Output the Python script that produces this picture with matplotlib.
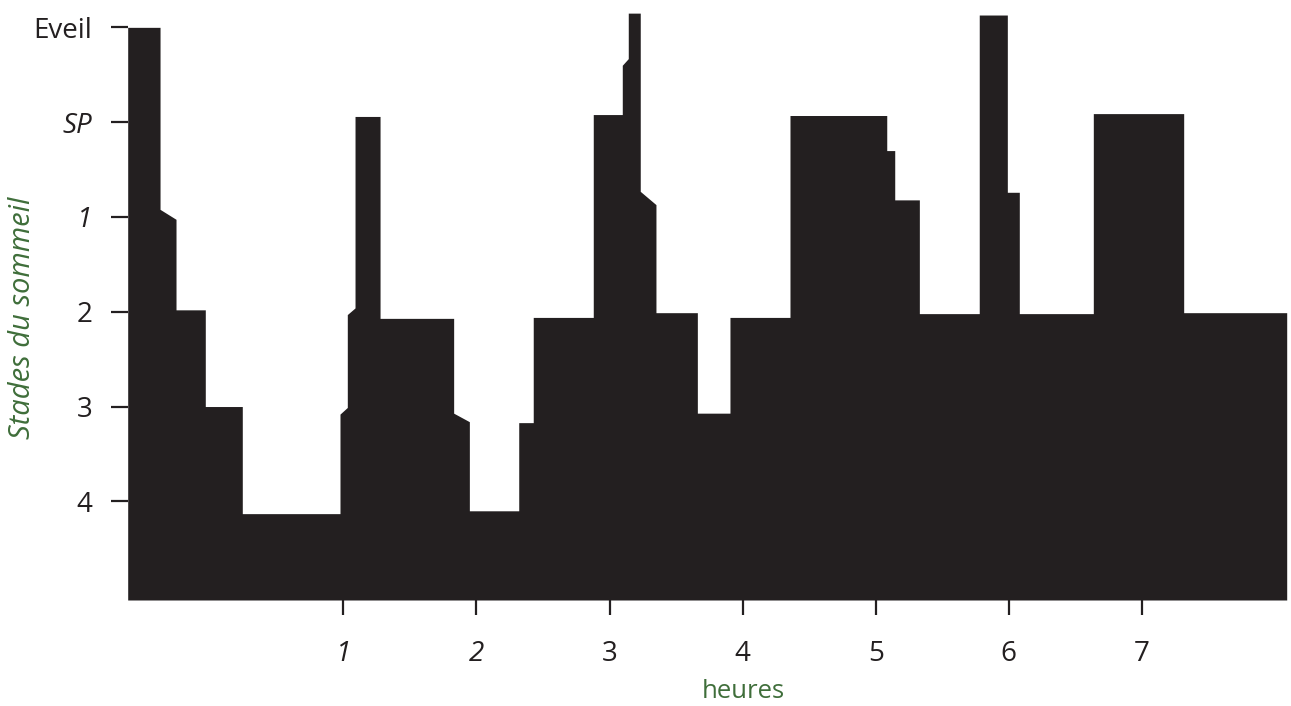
import matplotlib
matplotlib.use("Agg")
import matplotlib.pyplot as plt

plt.rcParams['font.family'] = ['Open Sans', 'DejaVu Sans']

# Hypnogram outline: time (hours) and stage level (5=Eveil, 4=SP, 3=stade 1, 2=stade 2, 1=stade 3, 0=stade 4)
hours = [-0.620, -0.377, -0.377, -0.257, -0.257, -0.037, -0.037, 0.241, 0.241, 0.975,
         0.975, 1.030, 1.030, 1.088, 1.088, 1.276, 1.276, 1.829, 1.829, 1.947,
         1.947, 2.318, 2.318, 2.427, 2.427, 2.878, 2.878, 3.096, 3.096, 3.141,
         3.141, 3.231, 3.231, 3.349, 3.349, 3.660, 3.660, 3.905, 3.905, 4.356,
         4.356, 5.083, 5.083, 5.143, 5.143, 5.328, 5.328, 5.778, 5.778, 5.989,
         5.989, 6.079, 6.079, 6.635, 6.635, 7.314, 7.314, 8.088]
levels = [5.00, 5.00, 3.08, 2.975, 2.02, 2.02, 1.00, 1.00, -0.13, -0.13,
          0.92, 0.99, 1.97, 2.04, 4.06, 4.06, 1.93, 1.93, 0.93, 0.84,
          -0.10, -0.10, 0.83, 0.83, 1.94, 1.94, 4.08, 4.08, 4.60, 4.67,
          5.15, 5.15, 3.27, 3.13, 1.99, 1.99, 0.93, 0.93, 1.94, 1.94,
          4.07, 4.07, 3.70, 3.70, 3.18, 3.18, 1.98, 1.98, 5.13, 5.13,
          3.26, 3.26, 1.98, 1.98, 4.09, 4.09, 1.99, 1.99]
baseline = -1.041

stage_ticks = [5, 4, 3, 2, 1, 0]
stage_labels = ['Eveil', 'SP', '1', '2', '3', '4']
hour_ticks = [1, 2, 3, 4, 5, 6, 7]
hour_labels = ['1', '2', '3', '4', '5', '6', '7']

fig = plt.figure(figsize=(12.91, 7.06), dpi=100)
W, H = 1291, 706
left_px, right_px, top_px, bot_px = 127.7, 1286.7, 10, 600
ax = fig.add_axes([left_px / W, 1 - bot_px / H, (right_px - left_px) / W, (bot_px - top_px) / H])

ax.fill_between(hours, levels, baseline, color='#231f20', linewidth=0)
ax.set_xlim(-0.620, 8.088)
ax.set_ylim(baseline, 5.183)

for s in ax.spines.values():
    s.set_visible(False)

ax.set_yticks(stage_ticks)
ax.set_yticklabels(stage_labels)
ax.set_xticks(hour_ticks)
ax.set_xticklabels(hour_labels)
ax.tick_params(axis='y', length=12.5, width=1.6, color='#231f20', pad=13,
               labelsize=20, labelcolor='#231f20')
ax.tick_params(axis='x', length=10.5, width=1.6, color='#231f20', pad=18,
               labelsize=20, labelcolor='#231f20')
for lab in ax.get_xticklabels():
    if lab.get_text() in ('1', '2'):
        lab.set_style('italic')
for lab in ax.get_yticklabels():
    if lab.get_text() in ('SP', '1'):
        lab.set_style('italic')

green = '#3f6e3a'
fig.text(23 / W, 1 - 318 / H, 'Stades du sommeil', rotation=90, color=green,
         fontsize=21, style='italic', ha='center', va='center')
fig.text(743 / W, 1.5 / H, 'heures', color=green, fontsize=18.5,
         ha='center', va='bottom')

fig.savefig('out.png', dpi=100)
